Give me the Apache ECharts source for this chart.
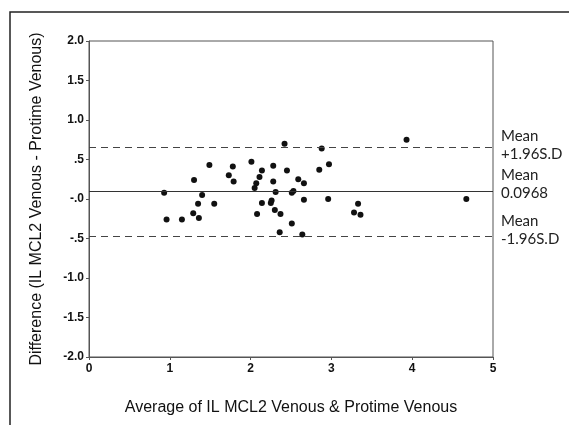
<!DOCTYPE html>
<html>
<head>
<meta charset="utf-8">
<script src="https://cdn.jsdelivr.net/npm/echarts@6/dist/echarts.min.js"></script>
<style>html,body{margin:0;padding:0;background:#fff;}#c{width:569px;height:425px;}</style>
</head>
<body>
<div id="c"></div>
<script>
var xTicks = ['0', '1', '2', '3', '4', '5'];
var yTickLabels = {'2': '2.0', '1.5': '1.5', '1': '1.0', '0.5': '.5', '0': '-.0', '-0.5': '-.5', '-1': '-1.0', '-1.5': '-1.5', '-2': '-2.0'};
var averages = [0.93,0.96,1.15,1.30,1.29,1.35,1.36,1.40,1.49,1.55,1.73,1.78,1.79,2.01,2.05,2.07,2.08,2.11,2.14,2.14,2.28,2.28,2.25,2.26,2.31,2.30,2.37,2.36,2.42,2.45,2.51,2.51,2.53,2.59,2.66,2.66,2.64,2.88,2.85,2.97,2.96,3.33,3.28,3.36,3.93,4.67];
var differences = [0.08,-0.26,-0.26,0.24,-0.18,-0.06,-0.24,0.05,0.43,-0.06,0.30,0.41,0.22,0.47,0.14,0.20,-0.19,0.28,0.36,-0.05,0.42,0.22,-0.05,-0.02,0.09,-0.14,-0.19,-0.42,0.70,0.36,-0.31,0.08,0.10,0.25,0.20,-0.01,-0.45,0.64,0.37,0.44,0.00,-0.06,-0.17,-0.20,0.75,0.00];
var meanDiff = 0.0968;
var upperLimit = 0.662;
var lowerLimit = -0.468;
var lineLabels = [['Mean', '+1.96S.D'], ['Mean', '0.0968'], ['Mean', '-1.96S.D']];

var points = averages.map(function (x, i) { return [x, differences[i]]; });
var chart = echarts.init(document.getElementById('c'));
function mkLabel(lines, spacerKey) {
  return {
    show: true, position: 'end', distance: 8, align: 'left',
    formatter: '{a|' + lines[0] + '}\n{a|' + lines[1] + '}\n{' + spacerKey + '| }',
    rich: {
      a: {fontFamily: 'Lato', fontSize: 15, color: '#222', lineHeight: 18},
      s4: {fontSize: 2, lineHeight: 4},
      s12: {fontSize: 2, lineHeight: 12},
      s14: {fontSize: 2, lineHeight: 14}
    }
  };
}
chart.setOption({
  animation: false,
  graphic: [{type: 'rect', shape: {x: 10, y: 12, width: 700, height: 600}, style: {fill: 'none', stroke: '#222', lineWidth: 1.5}, silent: true}],
  grid: {left: 89, right: 76, top: 41, bottom: 68, show: true, borderColor: '#555', borderWidth: 1, backgroundColor: 'transparent'},
  xAxis: {
    type: 'value', min: 0, max: 5, interval: 1,
    name: 'Average of IL MCL2 Venous & Protime Venous', nameLocation: 'middle', nameGap: 43,
    nameTextStyle: {fontFamily: 'Liberation Sans', fontSize: 16, color: '#111'},
    axisLine: {show: true, onZero: false, lineStyle: {color: '#555', width: 1}},
    axisTick: {show: true, length: 3, lineStyle: {color: '#555'}},
    axisLabel: {margin: 6, fontFamily: 'Liberation Sans', fontSize: 12, fontWeight: 'bold', color: '#111', formatter: function (v) { return xTicks[Math.round(v)]; }},
    splitLine: {show: false}
  },
  yAxis: {
    type: 'value', min: -2, max: 2, interval: 0.5,
    name: 'Difference (IL MCL2 Venous - Protime Venous)', nameLocation: 'middle', nameGap: 44,
    nameTextStyle: {fontFamily: 'Liberation Sans', fontSize: 16, color: '#111'},
    axisLine: {show: true, onZero: false, lineStyle: {color: '#555', width: 1}},
    axisTick: {show: true, length: 3, lineStyle: {color: '#555'}},
    axisLabel: {margin: 5, fontFamily: 'Liberation Sans', fontSize: 12, fontWeight: 'bold', color: '#111', formatter: function (v) { return yTickLabels[String(Math.round(v * 10) / 10)]; }},
    splitLine: {show: false}
  },
  series: [{
    type: 'scatter', data: points, symbolSize: 6,
    itemStyle: {color: '#111', opacity: 1},
    markLine: {
      silent: true, symbol: ['none', 'none'],
      data: [
        {yAxis: upperLimit, lineStyle: {type: [7, 5], color: '#444', width: 1}, label: mkLabel(lineLabels[0], 's4')},
        {yAxis: meanDiff, lineStyle: {type: 'solid', color: '#333', width: 1}, label: mkLabel(lineLabels[1], 's14')},
        {yAxis: lowerLimit, lineStyle: {type: [7, 5], color: '#444', width: 1}, label: mkLabel(lineLabels[2], 's12')}
      ]
    }
  }]
});
</script>
</body>
</html>
